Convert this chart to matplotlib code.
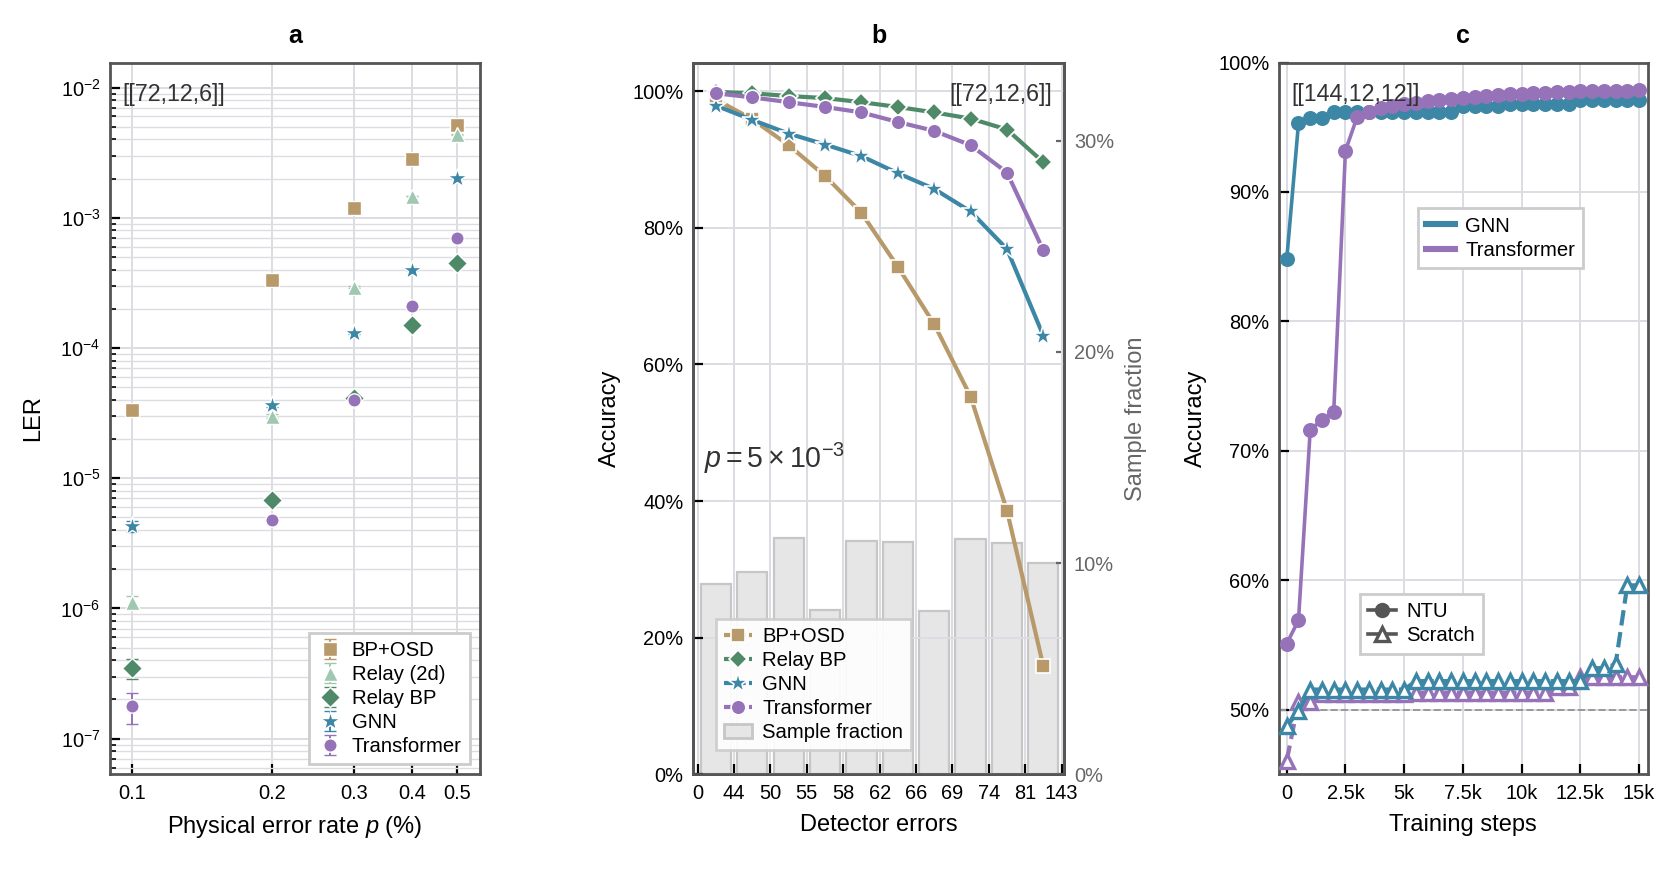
import matplotlib
matplotlib.use("Agg")
import matplotlib.pyplot as plt
from matplotlib.lines import Line2D
from matplotlib.patches import Patch
from matplotlib.ticker import FuncFormatter, LogLocator, NullLocator, NullFormatter, FixedLocator

plt.rcParams['font.family'] = ['Liberation Sans', 'DejaVu Sans']
plt.rcParams['mathtext.fontset'] = 'custom'
plt.rcParams['mathtext.rm'] = 'Liberation Sans'
plt.rcParams['mathtext.it'] = 'Liberation Sans:italic'
plt.rcParams['mathtext.bf'] = 'Liberation Sans:bold'
plt.rcParams['axes.edgecolor'] = '#555555'
plt.rcParams['axes.linewidth'] = 1.0
plt.rcParams['xtick.direction'] = 'in'
plt.rcParams['ytick.direction'] = 'in'
plt.rcParams['xtick.labelsize'] = 7.2
plt.rcParams['ytick.labelsize'] = 7.2
plt.rcParams['axes.labelsize'] = 8.5
plt.rcParams['legend.fontsize'] = 7.3
plt.rcParams['legend.fancybox'] = False
plt.rcParams['legend.edgecolor'] = '#cccccc'

# colours
C_OSD = '#b8996a'
C_R2D = '#a0c8b1'
C_RBP = '#4e8a68'
C_GNN = '#3d87a6'
C_TF = '#9673b8'
GRID = '#dcdde2'

# ---- panel a: LER vs physical error rate ----
p_rate = [0.1, 0.2, 0.3, 0.4, 0.5]
ler_osd = [3.36e-5, 3.33e-4, 1.19e-3, 2.84e-3, 5.14e-3]
ler_r2d = [1.13e-6, 3.02e-5, 2.95e-4, 1.47e-3, 4.38e-3]
ler_rbp = [3.46e-7, 6.83e-6, 4.1e-5, 1.49e-4, 4.46e-4]
ler_gnn = [4.28e-6, 3.63e-5, 1.30e-4, 3.97e-4, 2.03e-3]
ler_tf = [1.78e-7, 4.8e-6, 3.99e-5, 2.12e-4, 7.03e-4]
# relative error bar half widths
rel_osd = [0.10, 0.03, 0.015, 0.01, 0.008]
rel_r2d = [0.11, 0.035, 0.012, 0.008, 0.006]
rel_rbp = [0.175, 0.04, 0.015, 0.01, 0.008]
rel_gnn = [0.09, 0.03, 0.015, 0.008, 0.006]
rel_tf = [0.27, 0.05, 0.015, 0.01, 0.007]

# ---- panel b: accuracy vs detector errors ----
det_labels = ['0', '44', '50', '55', '58', '62', '66', '69', '74', '81', '143']
acc_osd = [98.8, 95.9, 92.1, 87.6, 82.2, 74.3, 65.9, 55.3, 38.6, 15.8]
acc_rbp = [99.9, 99.7, 99.3, 99.0, 98.4, 97.7, 96.9, 96.0, 94.4, 89.6]
acc_gnn = [97.9, 95.8, 93.8, 92.2, 90.5, 88.0, 85.7, 82.4, 76.9, 64.2]
acc_tf = [99.7, 99.1, 98.4, 97.7, 96.9, 95.5, 94.2, 92.1, 88.1, 76.7]
sample_frac = [9.0, 9.6, 11.2, 7.8, 11.05, 11.0, 7.75, 11.15, 10.95, 10.0]

# ---- panel c: accuracy vs training steps ----
steps = [0, 500, 1000, 1500, 2000, 2500, 3000, 3500, 4000, 4500, 5000,
         5500, 6000, 6500, 7000, 7500, 8000, 8500, 9000, 9500, 10000,
         10500, 11000, 11500, 12000, 12500, 13000, 13500, 14000, 14500, 15000]
gnn_ntu = [84.8, 95.3, 95.7, 95.7, 96.2, 96.2, 96.2, 96.2, 96.2, 96.2, 96.2,
           96.2, 96.2, 96.2, 96.2, 96.65, 96.65, 96.65, 96.65, 96.8, 96.8,
           96.8, 96.8, 96.8, 96.8, 97.1, 97.1, 97.1, 97.1, 97.1, 97.1]
tf_ntu = [55.1, 56.9, 71.6, 72.4, 73.0, 93.2, 95.8, 96.2, 96.5, 96.65, 96.8,
          96.9, 97.0, 97.1, 97.2, 97.3, 97.35, 97.4, 97.5, 97.55, 97.6,
          97.63, 97.68, 97.72, 97.75, 97.78, 97.8, 97.8, 97.8, 97.84, 97.86]
gnn_scr = [48.7, 49.9, 51.55, 51.55, 51.55, 51.55, 51.55, 51.55, 51.55, 51.55, 51.55,
           52.2, 52.2, 52.2, 52.2, 52.2, 52.2, 52.2, 52.2, 52.2, 52.2,
           52.2, 52.2, 52.2, 52.2, 52.2, 53.2, 53.2, 53.5, 59.6, 59.6]
tf_scr = [46.05, 50.6, 50.6, 51.2, 51.2, 51.2, 51.2, 51.2, 51.2, 51.2, 51.2,
          51.3, 51.3, 51.3, 51.3, 51.3, 51.3, 51.3, 51.3, 51.3, 51.3,
          51.3, 51.3, 51.75, 51.75, 52.5, 52.5, 52.5, 52.5, 52.5, 52.5]
step_ticks = [0, 2500, 5000, 7500, 10000, 12500, 15000]
step_labels = ['0', '2.5k', '5k', '7.5k', '10k', '12.5k', '15k']

fig = plt.figure(figsize=(8.4, 4.345), dpi=200)
ax_a = fig.add_axes([0.0655, 0.109, 0.2202, 0.819])
ax_b = fig.add_axes([0.4127, 0.109, 0.2207, 0.819])
ax_c = fig.add_axes([0.7613, 0.109, 0.2195, 0.819])

for ax in (ax_a, ax_b, ax_c):
    ax.tick_params(which='major', length=3.5, width=0.8, color='black')
    ax.tick_params(which='minor', length=2, width=0.6, color='black')

# panel a
series_a = [
    ('BP+OSD', ler_osd, rel_osd, C_OSD, 's', 4.8),
    ('Relay (2d)', ler_r2d, rel_r2d, C_R2D, '^', 5.4),
    ('Relay BP', ler_rbp, rel_rbp, C_RBP, 'D', 5.0),
    ('GNN', ler_gnn, rel_gnn, C_GNN, '*', 7.2),
    ('Transformer', ler_tf, rel_tf, C_TF, 'o', 4.8),
]
for name, vals, rel, col, mk, ms in series_a:
    yerr = [[v * r for v, r in zip(vals, rel)], [v * r for v, r in zip(vals, rel)]]
    ax_a.errorbar(p_rate, vals, yerr=yerr, fmt=mk, ms=ms, color=col, mec='white', mew=0.5,
                  ecolor=col, elinewidth=0.7, capsize=2, capthick=0.7, label=name, zorder=3)
ax_a.set_xscale('log')
ax_a.set_yscale('log')
ax_a.set_xlim(0.0897, 0.56)
ax_a.set_ylim(5.33e-8, 1.556e-2)
ax_a.xaxis.set_major_locator(FixedLocator(p_rate))
ax_a.xaxis.set_minor_locator(NullLocator())
ax_a.xaxis.set_major_formatter(FuncFormatter(lambda v, _: f'{v:g}'))
ax_a.yaxis.set_major_locator(LogLocator(base=10, numticks=12))
ax_a.yaxis.set_minor_locator(LogLocator(base=10, subs=[2, 3, 4, 5, 6, 7, 8, 9], numticks=12))
ax_a.yaxis.set_minor_formatter(NullFormatter())
ax_a.grid(True, which='major', color=GRID, lw=0.7)
ax_a.grid(True, which='minor', axis='y', color=GRID, lw=0.5)
ax_a.set_axisbelow(True)
ax_a.set_xlabel('Physical error rate $p$ (%)')
ax_a.set_ylabel('LER', labelpad=6)
ax_a.set_title('a', fontsize=9, fontweight='bold', pad=7)
ax_a.text(0.034, 0.955, '[[72,12,6]]', transform=ax_a.transAxes, fontsize=8.4,
          color='#333333', ha='left', va='center')
ax_a.legend(loc='lower right', framealpha=1, handlelength=1.2, handletextpad=0.5,
            borderpad=0.4, labelspacing=0.25)

# panel b
xs = [i + 0.5 for i in range(len(sample_frac))]
ax_b2 = ax_b.twinx()
ax_b2.bar(xs, sample_frac, width=0.83, color='#e6e6e6', edgecolor='#c6c6c6', lw=0.8)
ax_b2.set_ylim(0, 33.7)
ax_b2.set_yticks([0, 10, 20, 30])
ax_b2.yaxis.set_major_formatter(FuncFormatter(lambda v, _: f'{v:.0f}%'))
ax_b2.tick_params(axis='y', direction='in', length=3, width=0.8, colors='#666666', labelsize=7.2)
ax_b2.set_ylabel('Sample fraction', color='#666666', fontsize=8.5)
ax_b.set_zorder(ax_b2.get_zorder() + 1)
ax_b.patch.set_visible(False)

series_b = [
    ('BP+OSD', acc_osd, C_OSD, 's', 5.2),
    ('Relay BP', acc_rbp, C_RBP, 'D', 4.8),
    ('GNN', acc_gnn, C_GNN, '*', 7.8),
    ('Transformer', acc_tf, C_TF, 'o', 5.3),
]
handles_b = []
for name, vals, col, mk, ms in series_b:
    ax_b.plot(xs, vals, color=col, lw=1.5, marker=mk, ms=ms, mec='white', mew=0.6, zorder=3)
    handles_b.append(Line2D([], [], color=col, lw=1.5, ls=(0, (2.2, 0.8)), marker=mk, ms=ms,
                            mec='white', mew=0.6, label=name))
handles_b.append(Patch(facecolor='#e6e6e6', edgecolor='#c6c6c6', label='Sample fraction'))
ax_b.set_xlim(-0.12, 10.07)
ax_b.set_ylim(0, 104.2)
ax_b.set_xticks(range(len(det_labels)))
ax_b.set_xticklabels(det_labels)
ax_b.set_yticks([0, 20, 40, 60, 80, 100])
ax_b.yaxis.set_major_formatter(FuncFormatter(lambda v, _: f'{v:.0f}%'))
ax_b.grid(True, color=GRID, lw=0.7)
ax_b.set_axisbelow(True)
ax_b.set_xlabel('Detector errors')
ax_b.set_ylabel('Accuracy')
ax_b.set_title('b', fontsize=9, fontweight='bold', pad=7)
ax_b.text(0.967, 0.955, '[[72,12,6]]', transform=ax_b.transAxes, fontsize=8.4,
          color='#333333', ha='right', va='center')
ax_b.text(0.03, 0.444, r'$p = 5\times10^{-3}$', transform=ax_b.transAxes, fontsize=10.3,
          color='#333333', ha='left', va='center')
ax_b.legend(handles=handles_b, loc='lower left', bbox_to_anchor=(0.06, 0.034),
            borderaxespad=0, framealpha=0.9, handlelength=1.4, handletextpad=0.5,
            borderpad=0.4, labelspacing=0.25)

# panel c
ax_c.axhline(50, color='#999999', lw=0.7, ls='--', zorder=1)
ax_c.plot(steps, gnn_ntu, color=C_GNN, lw=1.3, marker='o', ms=4.4, zorder=3)
ax_c.plot(steps, tf_ntu, color=C_TF, lw=1.3, marker='o', ms=4.4, zorder=3)
ax_c.plot(steps, tf_scr, color=C_TF, lw=1.5, ls='--', marker='^', ms=5.0, mfc='white',
          mew=1.2, zorder=3)
ax_c.plot(steps, gnn_scr, color=C_GNN, lw=1.5, ls='--', marker='^', ms=5.0, mfc='white',
          mew=1.2, zorder=3)
ax_c.set_xlim(-330, 15370)
ax_c.set_ylim(45, 100)
ax_c.set_xticks(step_ticks)
ax_c.set_xticklabels(step_labels)
ax_c.set_yticks([50, 60, 70, 80, 90, 100])
ax_c.yaxis.set_major_formatter(FuncFormatter(lambda v, _: f'{v:.0f}%'))
ax_c.grid(True, color=GRID, lw=0.7)
ax_c.set_axisbelow(True)
ax_c.set_xlabel('Training steps')
ax_c.set_ylabel('Accuracy')
ax_c.set_title('c', fontsize=9, fontweight='bold', pad=7)
ax_c.text(0.033, 0.955, '[[144,12,12]]', transform=ax_c.transAxes, fontsize=8.4,
          color='#333333', ha='left', va='center')
leg1 = ax_c.legend(handles=[Line2D([], [], color=C_GNN, lw=2.2, label='GNN'),
                            Line2D([], [], color=C_TF, lw=2.2, label='Transformer')],
                   loc='upper left', bbox_to_anchor=(0.378, 0.795), borderaxespad=0,
                   framealpha=1, handlelength=1.4, handletextpad=0.5, borderpad=0.4,
                   labelspacing=0.25)
ax_c.add_artist(leg1)
ax_c.legend(handles=[Line2D([], [], color='#555555', lw=1.3, marker='o', ms=4.5, label='NTU'),
                     Line2D([], [], color='#555555', lw=1.3, marker='^', ms=5.0, mfc='white',
                            mew=1.2, label='Scratch')],
            loc='upper left', bbox_to_anchor=(0.219, 0.253), borderaxespad=0,
            framealpha=1, handlelength=1.4, handletextpad=0.5, borderpad=0.4,
            labelspacing=0.25)

fig.savefig('out.png', dpi=200)
